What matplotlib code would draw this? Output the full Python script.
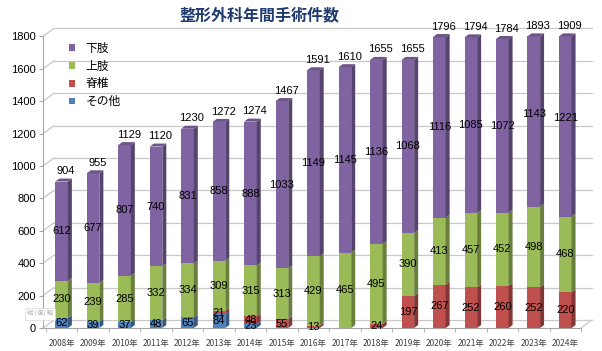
import numpy as np
import matplotlib.pyplot as plt
from matplotlib.patches import Polygon, Patch
from matplotlib.colors import to_rgb

years = ['2008年', '2009年', '2010年', '2011年', '2012年', '2013年', '2014年', '2015年',
         '2016年', '2017年', '2018年', '2019年', '2020年', '2021年', '2022年', '2023年', '2024年']
other = [62, 39, 37, 48, 65, 84, 23, 0, 0, 0, 0, 0, 0, 0, 0, 0, 0]
spine = [0, 0, 0, 0, 0, 21, 48, 55, 13, 0, 24, 197, 267, 252, 260, 252, 220]
upper = [230, 239, 285, 332, 334, 309, 315, 313, 429, 465, 495, 390, 413, 457, 452, 498, 468]
lower = [612, 677, 807, 740, 831, 858, 888, 1033, 1149, 1145, 1136, 1068, 1116, 1085, 1072, 1143, 1221]
totals = [904, 955, 1129, 1120, 1230, 1272, 1274, 1467, 1591, 1610, 1655, 1655, 1796, 1794, 1784, 1893, 1909]

series = [('その他', other, '#4F81BD'),
          ('脊椎', spine, '#C0504D'),
          ('上肢', upper, '#9BBB59'),
          ('下肢', lower, '#8064A2')]

cjk = ['Noto Sans CJK JP', 'DejaVu Sans']
numfont = 'Liberation Sans'


def shade(c, f):
    r, g, b = to_rgb(c)
    return (r * f, g * f, b * f)


W, H = 602, 351
fig = plt.figure(figsize=(W / 100, H / 100), dpi=100)
ax_l, ax_b, ax_w, ax_h = 43, 23, 538, 291.6
ax = fig.add_axes([ax_l / W, ax_b / H, ax_w / W, ax_h / H])
xlo, xhi = -0.59, 16.5
ylo, yhi = 0, 1800   # axis max: taller bars get cut off here, as in the original
ax.set_xlim(xlo, xhi)
ax.set_ylim(ylo, yhi)

# pixel -> data conversions for the fake 3D depth
px_x = (xhi - xlo) / ax_w
px_y = (yhi - ylo) / ax_h
wall_dx, wall_dy = 11 * px_x, 8 * px_y
bar_dx, bar_dy = 4 * px_x, 3 * px_y

grid_c = '#C8C8C8'
# back wall grid lines + diagonals from the axis
for v in range(0, 2000, 200):
    ax.plot([xlo, xlo + wall_dx], [v, v + wall_dy], color=grid_c, lw=0.9, zorder=0, clip_on=False)
    ax.plot([xlo + wall_dx, xhi + wall_dx], [v + wall_dy, v + wall_dy], color=grid_c, lw=0.9,
            zorder=0, clip_on=False)
ax.plot([xhi, xhi + wall_dx], [0, wall_dy], color=grid_c, lw=0.9, zorder=0, clip_on=False)

x = np.arange(len(years))
bw = 0.4
bottom = np.zeros(len(years))
for name, vals, col in series:
    vals = np.array(vals, dtype=float)
    ax.bar(x, vals, bw, bottom=bottom, color=col, edgecolor='none', zorder=3, label=name)
    for i in range(len(x)):
        if vals[i] <= 0:
            continue
        xr = x[i] + bw / 2
        y0, y1 = bottom[i], bottom[i] + vals[i]
        yc = min(y1, yhi)
        if y0 < yhi:
            side = Polygon([(xr, y0), (xr + bar_dx, y0 + bar_dy), (xr + bar_dx, yc + bar_dy), (xr, yc)],
                           closed=True, facecolor=shade(col, 0.68), edgecolor='none', zorder=3,
                           clip_on=False)
            ax.add_patch(side)
        ax.text(x[i], (y0 + y1) / 2, f'{int(vals[i])}', ha='center', va='center',
                fontsize=8, family=numfont, color='black', zorder=6)
    bottom = bottom + vals

# top faces and total labels
for i in range(len(x)):
    c = None
    for name, vals, col in series:
        if vals[i] > 0:
            c = col
    xl, xr = x[i] - bw / 2, x[i] + bw / 2
    t = min(bottom[i], yhi)
    ax.add_patch(Polygon([(xl, t), (xr, t), (xr + bar_dx, t + bar_dy), (xl + bar_dx, t + bar_dy)],
                         closed=True, facecolor=shade(c, 0.85), edgecolor='none', zorder=4,
                         clip_on=False))
    ax.annotate(f'{totals[i]}', (x[i], t), xytext=(3, 7.5), textcoords='offset points',
                ha='center', va='center', fontsize=8, family=numfont, color='black',
                annotation_clip=False)

# axes styling
for s in ['top', 'right']:
    ax.spines[s].set_visible(False)
ax.spines['left'].set_color('#A6A6A6')
ax.spines['bottom'].set_color('#A6A6A6')
ax.set_yticks(range(0, 2000, 200))
ax.tick_params(axis='y', length=3, color='#A6A6A6', labelsize=8, pad=2)
for lab in ax.get_yticklabels():
    lab.set_family(numfont)
ax.set_xticks(x)
ax.set_xticklabels(years, family=cjk, fontsize=6, color='#404040')
ax.tick_params(axis='x', length=0, pad=8)
ax.set_xticks(np.arange(-0.5, len(years), 1), minor=True)
ax.tick_params(axis='x', which='minor', length=3, color='#A6A6A6')

handles = [Patch(facecolor=c, label=n) for n, v, c in series[::-1]]
leg = ax.legend(handles=handles, loc='upper left', bbox_to_anchor=(69 / W, 1 - 42 / H),
                bbox_transform=fig.transFigure, frameon=False, prop={'family': cjk, 'size': 8.5},
                handlelength=0.5, handleheight=0.5, handletextpad=0.9, labelspacing=0.4,
                borderpad=0, borderaxespad=0)

fig.text(27 / W, 1 - 314 / H, '縦 (値) 軸', family=cjk, fontsize=4.5, color='#B0B0B0',
         ha='left', va='center',
         bbox=dict(boxstyle='square,pad=0.35', facecolor='white', edgecolor='#D8D8D8', lw=0.5))

fig.text(259 / W, 1 - 15 / H, '整形外科年間手術件数', family=cjk, fontsize=11.5,
         fontweight='bold', color='#1F3A6E', ha='center', va='center')

fig.savefig('out.png', dpi=100)
